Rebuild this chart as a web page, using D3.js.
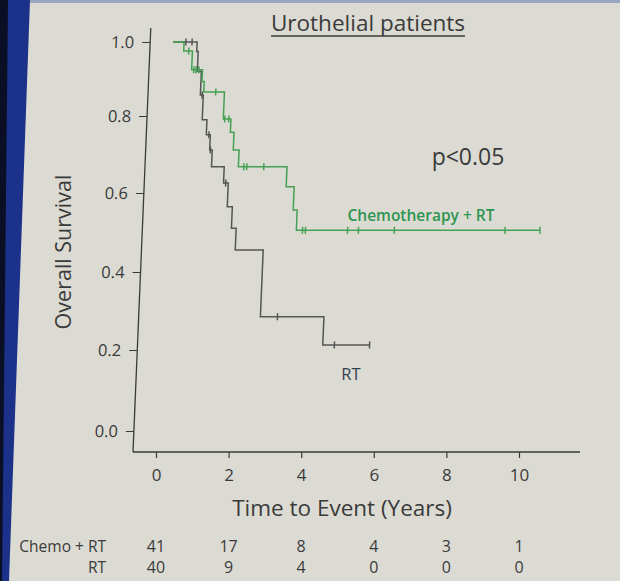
<!DOCTYPE html>
<html>
<head>
<meta charset="utf-8">
<script src="https://cdn.jsdelivr.net/npm/d3@7"></script>
<style>
    body { margin: 0; background: #dcdbd3; }
    svg { display: block; }
    text { font-family: "Open Sans", "Noto Sans", sans-serif; }
</style>
</head>
<body>
<svg id="chart"></svg>
<script>
// tick values
const xTicks = [0, 2, 4, 6, 8, 10];
const yTicks = [0, 0.2, 0.4, 0.6, 0.8, 1.0];

// Chemotherapy + RT: event times (years) and survival after each step
const chemoEventTimes = [0.30, 0.54, 0.84, 0.90, 1.47, 1.68, 1.78, 1.94, 3.28, 3.50, 3.61];
const chemoSurvival   = [0.976, 0.925, 0.893, 0.865, 0.792, 0.758, 0.712, 0.668, 0.616, 0.557, 0.506];
const chemoCensorTimes = [0.44, 0.60, 0.66, 0.74, 1.23, 1.51, 1.62, 2.09, 2.17, 2.64, 3.78, 3.86, 5.02, 5.32, 6.31, 9.36, 10.32];
const chemoLastTime = 10.32;

// RT alone
const rtEventTimes = [0.66, 0.70, 0.81, 0.89, 1.02, 1.13, 1.20, 1.55, 1.68, 1.82, 1.95, 2.72, 4.47];
const rtSurvival   = [0.974, 0.920, 0.857, 0.790, 0.751, 0.712, 0.668, 0.626, 0.565, 0.511, 0.456, 0.285, 0.213];
const rtCensorTimes = [0.35, 0.52, 0.86, 1.09, 1.15, 1.61, 3.19, 4.79, 5.76];
const rtLastTime = 5.76;

// numbers at risk
const riskGroups = ["Chemo + RT", "RT"];
const riskChemo = [41, 17, 8, 4, 3, 1];
const riskRT = [40, 9, 4, 0, 0, 0];

const width = 620, height = 581;
const baseY = 452, axisX = 133;
const green = "#44a052", greenText = "#2e9550", grey = "#555555", ink = "#3a3a3a";

const svg = d3.select("#chart").attr("width", width).attr("height", height);

// slide background and slanted blue edge of the projector screen
svg.append("rect").attr("width", width).attr("height", height).attr("fill", "#dcdbd3");
svg.append("polygon").attr("points", `0,0 30,0 9,${height} 0,${height}`).attr("fill", "#1b318a");
svg.append("polygon").attr("points", `0,0 8,0 2,${height} 0,${height}`).attr("fill", "#0a0f25");
svg.append("rect").attr("x", 30).attr("width", width - 30).attr("height", 3).attr("fill", "#9aa6bf");

// scales (y follows the measured tick positions of the photographed slide)
const x = d3.scaleLinear().domain([0, 10]).range([156, 519]);
const y = d3.scaleLinear().domain(yTicks).range([431, 350, 272, 193, 116, 42]);

// plot area is slightly slanted in the photo
const plot = svg.append("g")
    .attr("transform", `translate(0,${baseY}) skewX(-2.4) translate(0,${-baseY})`);

// axis lines
plot.append("line")
    .attr("x1", axisX).attr("x2", axisX).attr("y1", 28).attr("y2", baseY)
    .attr("stroke", ink).attr("stroke-width", 1.3);

const yAxis = d3.axisLeft(y).tickValues(yTicks).tickFormat(d3.format(".1f")).tickSize(8).tickPadding(8);
plot.append("g")
    .attr("transform", `translate(${axisX},0)`)
    .call(yAxis)
    .call(g => g.select(".domain").remove())
    .call(g => g.selectAll("line").attr("stroke", ink).attr("stroke-width", 1.2))
    .call(g => g.selectAll("text").attr("fill", ink).style("font-size", "16.5px"));

svg.append("line")
    .attr("x1", axisX).attr("x2", 580).attr("y1", baseY).attr("y2", baseY)
    .attr("stroke", ink).attr("stroke-width", 1.3);

const xAxis = d3.axisBottom(x).tickValues(xTicks).tickSize(6).tickPadding(11);
svg.append("g")
    .attr("transform", `translate(0,${baseY})`)
    .call(xAxis)
    .call(g => g.select(".domain").remove())
    .call(g => g.selectAll("line").attr("stroke", ink).attr("stroke-width", 1.2))
    .call(g => g.selectAll("text").attr("fill", ink).style("font-size", "17px"));

// Kaplan-Meier step curves
function stepPoints(times, surv, last) {
    const pts = [[0, 1]];
    times.forEach((t, i) => pts.push([t, surv[i]]));
    pts.push([last, surv[surv.length - 1]]);
    return pts;
}
function survivalAt(times, surv, t) {
    let s = 1;
    times.forEach((et, i) => { if (et <= t) s = surv[i]; });
    return s;
}
const line = d3.line().x(d => x(d[0])).y(d => y(d[1])).curve(d3.curveStepAfter);

const groups = [
    {times: rtEventTimes, surv: rtSurvival, censor: rtCensorTimes, last: rtLastTime, color: grey},
    {times: chemoEventTimes, surv: chemoSurvival, censor: chemoCensorTimes, last: chemoLastTime, color: green}
];

groups.forEach(gr => {
    plot.append("path")
        .datum(stepPoints(gr.times, gr.surv, gr.last))
        .attr("d", line)
        .attr("fill", "none")
        .attr("stroke", gr.color)
        .attr("stroke-width", 1.5);

    plot.selectAll(null)
        .data(gr.censor)
        .join("line")
        .attr("x1", d => x(d)).attr("x2", d => x(d))
        .attr("y1", d => y(survivalAt(gr.times, gr.surv, d)) - 3.5)
        .attr("y2", d => y(survivalAt(gr.times, gr.surv, d)) + 3.5)
        .attr("stroke", gr.color)
        .attr("stroke-width", 1.5);
});

// title
const title = svg.append("text")
    .attr("x", 368).attr("y", 31)
    .attr("text-anchor", "middle")
    .attr("fill", ink)
    .style("font-size", "22.5px")
    .text("Urothelial patients");
const tb = title.node().getBBox();
svg.append("line")
    .attr("x1", tb.x).attr("x2", tb.x + tb.width)
    .attr("y1", 36).attr("y2", 36)
    .attr("stroke", ink).attr("stroke-width", 1.4);

// annotations
svg.append("text")
    .attr("x", 468).attr("y", 165)
    .attr("text-anchor", "middle")
    .attr("fill", ink)
    .style("font-size", "23px")
    .text("p<0.05");

svg.append("text")
    .attr("x", 421).attr("y", 220.5)
    .attr("text-anchor", "middle")
    .attr("fill", greenText)
    .style("font-size", "15.5px")
    .style("font-weight", 600)
    .text("Chemotherapy + RT");

svg.append("text")
    .attr("x", 351).attr("y", 380)
    .attr("text-anchor", "middle")
    .attr("fill", "#33414f")
    .style("font-size", "16.5px")
    .text("RT");

// axis titles
svg.append("text")
    .attr("x", 342).attr("y", 516)
    .attr("text-anchor", "middle")
    .attr("fill", ink)
    .style("font-size", "22.5px")
    .text("Time to Event (Years)");

svg.append("text")
    .attr("transform", "translate(71,252) rotate(-90)")
    .attr("text-anchor", "middle")
    .attr("fill", ink)
    .style("font-size", "21.5px")
    .text("Overall Survival");

// numbers at risk table
const riskRows = [riskChemo, riskRT];
riskRows.forEach((row, i) => {
    const rowY = 552 + i * 21;
    svg.append("text")
        .attr("x", 106).attr("y", rowY)
        .attr("text-anchor", "end")
        .attr("fill", ink)
        .style("font-size", "15.5px")
        .text(riskGroups[i]);
    svg.selectAll(null)
        .data(row)
        .join("text")
        .attr("x", (d, j) => x(xTicks[j]))
        .attr("y", rowY)
        .attr("text-anchor", "middle")
        .attr("fill", ink)
        .style("font-size", "16px")
        .text(d => d);
});
</script>
</body>
</html>
